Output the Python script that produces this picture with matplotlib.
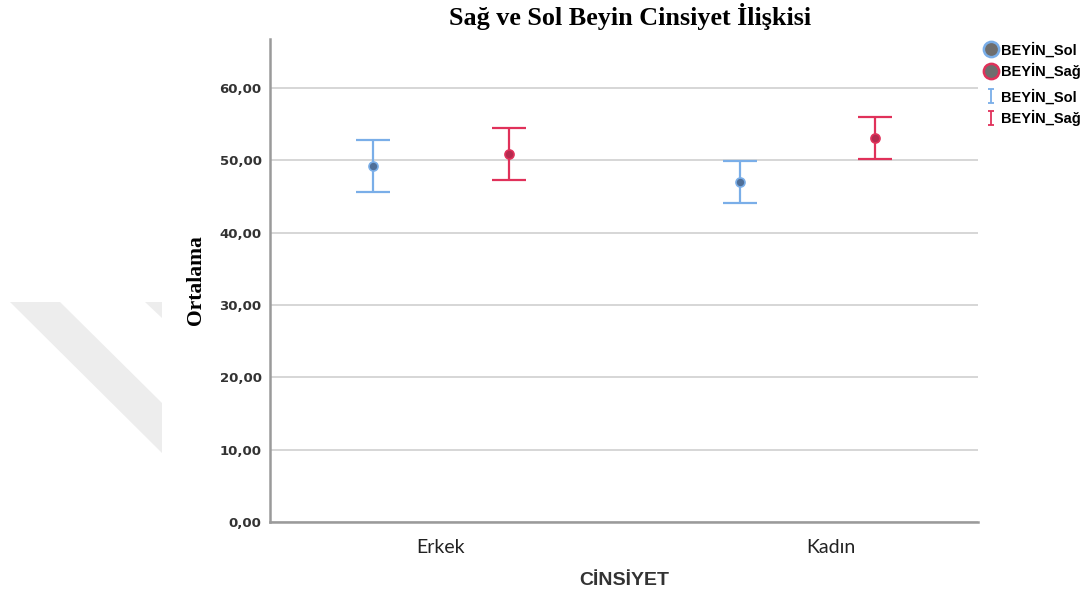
import numpy as np
import matplotlib; matplotlib.use("Agg")
import matplotlib.pyplot as plt
from matplotlib.patches import Polygon
from matplotlib.lines import Line2D
from matplotlib.path import Path

# ---- data ----
categories = ["Erkek", "Kadın"]
series = ["BEYİN_Sol", "BEYİN_Sağ"]
sol_mean = [49.2, 47.0]
sol_low = [45.6, 44.1]
sol_high = [52.8, 49.9]
sag_mean = [50.9, 53.1]
sag_low = [47.3, 50.2]
sag_high = [54.5, 56.0]
yticks = [0, 10, 20, 30, 40, 50, 60]

BLUE = "#7aaee8"; BLUE_DOT = "#4f6f98"
RED = "#e0315a"; RED_DOT = "#b42a4e"
W, H = 1091, 600

fig = plt.figure(figsize=(W/100, H/100), dpi=100)

# faint watermark bands at left (pixel coords -> figure fraction)
def px(pts): return [(x/W, 1 - y/H) for x, y in pts]
for poly in [[(10, 302), (60, 302), (162, 403), (162, 453)], [(145, 302), (162, 302), (162, 318)]]:
    fig.patches.append(Polygon(px(poly), closed=True, transform=fig.transFigure,
                               facecolor="#ededed", edgecolor="none", zorder=0))

ax = fig.add_axes([270/W, 1 - 522/H, (978-270)/W, (522-39)/H])
tick_pos = np.arange(len(categories))
group_pos = np.array([0.0, 0.94])   # SPSS draws the Kadın group a bit left of its label
off = 0.174
for xs, m, lo, hi, c, dc in [(group_pos - off, sol_mean, sol_low, sol_high, BLUE, BLUE_DOT),
                             (group_pos + off, sag_mean, sag_low, sag_high, RED, RED_DOT)]:
    m = np.array(m); err = [m - np.array(lo), np.array(hi) - m]
    ax.errorbar(xs, m, yerr=err, fmt="none", ecolor=c, elinewidth=1.6, capsize=12, capthick=1.6, zorder=3)
    ax.plot(xs, m, "o", ms=6.5, mfc=dc, mec=c, mew=1.2, zorder=4)

ax.set_xlim(-0.438, 1.377); ax.set_ylim(0, 66.8)
ax.set_yticks(yticks)
ax.set_yticklabels([f"{v:.2f}".replace(".", ",") for v in yticks],
                   fontsize=9.5, fontweight="bold", color="#333333", family="DejaVu Sans")
ax.set_xticks(tick_pos); ax.set_xticklabels(categories, fontsize=14, family="Lato", color="#222222")
ax.tick_params(axis="y", length=0, pad=6)
ax.tick_params(axis="x", length=0, pad=12)
ax.grid(axis="y", color="#cccccc", lw=1.1); ax.set_axisbelow(True)
for s in ["top", "right"]: ax.spines[s].set_visible(False)
for s in ["left", "bottom"]: ax.spines[s].set_color("#9a9a9a"); ax.spines[s].set_linewidth(1.8)

ax.set_ylabel("Ortalama", fontsize=15.5, fontweight="bold", family="Liberation Serif", labelpad=10)
ax.set_xlabel("CİNSİYET", fontsize=14, fontweight="bold", family="Liberation Sans", color="#333333", labelpad=12)
fig.text(630/W, 1 - 17/H, "Sağ ve Sol Beyin Cinsiyet İlişkisi", ha="center", va="center",
         fontsize=18.8, fontweight="bold", family="Liberation Serif")

# legend: circles, then error-bar glyphs
ibar = Path([(-0.5, 1), (0.5, 1), (0, 1), (0, -1), (-0.5, -1), (0.5, -1)],
            [Path.MOVETO, Path.LINETO, Path.MOVETO, Path.LINETO, Path.MOVETO, Path.LINETO])
prop = {"family": "Liberation Sans", "weight": "bold", "size": 10.5}
h1 = [Line2D([], [], ls="none", marker="o", ms=11, mfc="#6e6e6e", mec=BLUE, mew=1.8),
      Line2D([], [], ls="none", marker="o", ms=11, mfc="#6e6e6e", mec=RED, mew=1.8)]
h2 = [Line2D([], [], ls="none", marker=ibar, ms=10, mfc="none", mec=BLUE, mew=1.3),
      Line2D([], [], ls="none", marker=ibar, ms=10, mfc="none", mec=RED, mew=1.3)]
fig.legend(h1, series, loc="upper left", bbox_to_anchor=(972/W, 1 - 29/H), frameon=False,
           handlelength=0.8, handletextpad=0.3, labelspacing=0.35, prop=prop)
fig.legend(h2, series, loc="upper left", bbox_to_anchor=(972/W, 1 - 76/H), frameon=False,
           handlelength=0.8, handletextpad=0.3, labelspacing=0.35, prop=prop)

fig.savefig("out.png", dpi=100)
